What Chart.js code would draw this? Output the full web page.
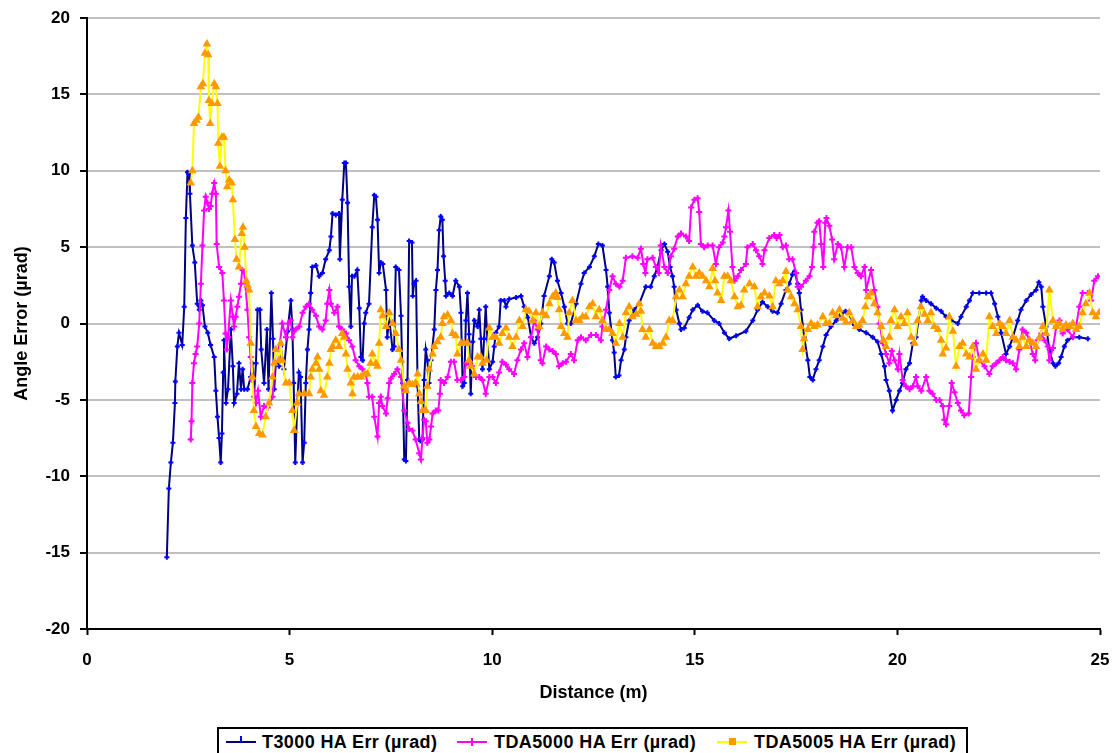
<!DOCTYPE html>
<html>
<head>
<meta charset="utf-8">
<script src="https://cdn.jsdelivr.net/npm/chart.js@4.4.1/dist/chart.umd.min.js"></script>
<style>
  html, body { margin: 0; padding: 0; background: #fff; overflow: hidden; }
  #wrap { position: relative; width: 1114px; height: 753px; }
  #legend {
    position: absolute; left: 217px; top: 727px; width: 751px; height: 32px;
    box-sizing: border-box; border: 2px solid #000; background: #fff;
    font-family: "Liberation Sans", Arial, sans-serif; font-size: 18px; font-weight: bold;
    letter-spacing: 0.4px; color: #000;
  }
  .item { position: absolute; top: 2px; height: 22px; }
  .swatch { position: absolute; top: 10px; width: 30px; height: 2px; }
  .mark { position: absolute; }
  .label { position: absolute; top: 1px; white-space: nowrap; line-height: 20px; }
</style>
</head>
<body>
<div id="wrap">
  <canvas id="chart" width="1114" height="753"></canvas>
  <div id="legend"></div>
</div>
<script>
// Series names
const seriesNames = ['T3000 HA Err (µrad)', 'TDA5000 HA Err (µrad)', 'TDA5005 HA Err (µrad)'];

// Axis ticks
const xTicks = [0, 5, 10, 15, 20, 25];
const yTicks = [-20, -15, -10, -5, 0, 5, 10, 15, 20];

// T3000 : [distance m, error µrad]
const t3000 = [
  [1.97,-15.3],[2.02,-10.8],[2.07,-9.1],[2.12,-7.8],[2.17,-5.2],[2.18,-3.8],[2.23,-1.5],[2.27,-0.6],[2.35,-1.4],[2.40,1.1],
  [2.44,6.9],[2.48,9.9],[2.52,9.8],[2.54,8.5],[2.60,5.1],[2.66,4.0],[2.72,1.3],[2.77,0.9],[2.81,1.5],[2.85,1.2],
  [2.91,-0.2],[2.98,-0.6],[3.05,-1.4],[3.14,-2.2],[3.18,-4.4],[3.22,-6.1],[3.26,-7.5],[3.30,-9.1],[3.33,-7.2],[3.36,-3.2],
  [3.38,-1.1],[3.43,-5.2],[3.48,-4.3],[3.55,-0.4],[3.60,-2.8],[3.63,-5.2],[3.70,-4.6],[3.75,-2.6],[3.80,-4.3],[3.84,-3.0],
  [3.88,-4.3],[3.96,-4.3],[4.04,-3.5],[4.08,-2.6],[4.12,-4.8],[4.17,-2.6],[4.21,0.9],[4.27,0.9],[4.30,-1.7],[4.37,-3.9],
  [4.44,-0.4],[4.48,-4.3],[4.55,2.0],[4.59,-1.0],[4.62,-4.3],[4.66,-2.6],[4.74,-2.8],[4.78,-1.5],[4.86,-3.0],[4.95,-0.5],
  [5.03,1.5],[5.07,-0.4],[5.10,-3.9],[5.14,-9.1],[5.19,-5.2],[5.23,-3.2],[5.27,-3.5],[5.32,-9.1],[5.36,-7.8],[5.40,-3.9],
  [5.44,-1.7],[5.48,-0.4],[5.52,2.0],[5.56,3.7],[5.65,3.8],[5.73,3.1],[5.81,3.3],[5.89,4.2],[5.98,4.8],[6.02,5.7],
  [6.06,7.2],[6.14,7.1],[6.22,7.2],[6.24,4.2],[6.30,8.1],[6.35,10.5],[6.39,10.5],[6.43,7.9],[6.47,2.4],[6.51,-0.2],
  [6.54,3.1],[6.60,3.1],[6.67,3.5],[6.72,1.0],[6.76,-2.2],[6.80,-2.4],[6.84,0.0],[6.88,0.7],[6.96,1.3],[7.04,6.3],
  [7.09,8.4],[7.13,8.3],[7.17,6.8],[7.21,3.3],[7.25,4.0],[7.30,3.9],[7.38,2.2],[7.41,-0.9],[7.46,0.3],[7.54,-1.7],
  [7.58,-1.5],[7.62,3.7],[7.70,3.5],[7.75,0.5],[7.79,-3.9],[7.83,-8.9],[7.87,-9.0],[7.91,-3.7],[7.95,5.4],[8.02,5.3],
  [8.04,1.8],[8.07,2.6],[8.12,2.8],[8.16,-4.1],[8.20,-7.6],[8.23,-7.7],[8.28,-7.6],[8.32,-3.7],[8.36,-1.7],[8.40,-2.4],
  [8.44,-3.9],[8.49,-2.4],[8.57,-0.4],[8.61,2.2],[8.65,3.5],[8.69,6.1],[8.73,7.0],[8.77,6.8],[8.80,4.4],[8.84,2.8],
  [8.86,1.8],[8.94,2.0],[9.02,1.8],[9.10,2.8],[9.19,2.4],[9.23,0.7],[9.27,-4.1],[9.31,-3.9],[9.35,0.2],[9.39,2.0],
  [9.43,-0.7],[9.47,-4.6],[9.52,-1.2],[9.56,0.2],[9.64,-0.2],[9.68,0.9],[9.72,-1.0],[9.76,-3.0],[9.80,-1.0],[9.84,1.1],
  [9.88,-1.0],[9.93,-3.0],[10.01,-2.5],[10.05,-1.5],[10.09,-0.6],[10.17,-0.2],[10.21,1.5],[10.30,1.5],[10.34,1.1],[10.42,1.6],
  [10.59,1.7],[10.71,1.8],[10.79,1.1],[10.88,0.4],[10.96,-0.9],[11.04,-1.3],[11.12,-0.9],[11.20,0.0],[11.28,1.8],[11.41,3.1],
  [11.47,4.2],[11.53,4.0],[11.61,2.8],[11.70,2.0],[11.78,1.1],[11.86,0.0],[11.94,0.0],[12.07,1.3],[12.19,2.6],[12.27,3.3],
  [12.40,3.7],[12.52,4.4],[12.62,5.2],[12.72,5.1],[12.81,3.5],[12.85,2.4],[12.89,0.7],[12.97,-1.1],[13.01,-1.9],[13.05,-3.5],
  [13.13,-3.4],[13.18,-2.4],[13.26,-1.7],[13.30,-0.9],[13.38,0.2],[13.51,0.9],[13.63,1.3],[13.79,2.4],[13.91,2.4],[14.00,3.1],
  [14.08,3.7],[14.17,4.8],[14.25,5.2],[14.33,4.7],[14.39,3.7],[14.45,3.1],[14.49,2.4],[14.54,0.9],[14.62,0.0],[14.66,-0.4],
  [14.74,-0.3],[14.86,0.4],[14.95,0.9],[15.07,1.2],[15.19,0.8],[15.31,0.7],[15.48,0.2],[15.60,0.0],[15.73,-0.6],[15.85,-1.0],
  [16.02,-0.8],[16.26,-0.5],[16.43,0.2],[16.55,0.9],[16.67,1.4],[16.80,1.1],[16.92,0.8],[17.04,0.7],[17.13,1.3],[17.25,2.2],
  [17.33,2.6],[17.41,3.2],[17.46,3.4],[17.54,2.6],[17.58,2.0],[17.62,0.9],[17.70,-0.9],[17.79,-2.4],[17.84,-3.5],[17.91,-3.7],
  [17.99,-3.0],[18.07,-2.4],[18.16,-1.5],[18.24,-0.75],[18.36,-0.2],[18.49,0.2],[18.61,0.6],[18.72,0.8],[18.80,0.6],[18.94,-0.1],
  [19.06,-0.4],[19.23,-0.6],[19.39,-0.9],[19.51,-1.2],[19.60,-2.0],[19.68,-2.8],[19.72,-3.7],[19.80,-4.4],[19.88,-5.7],[19.97,-5.0],
  [20.05,-4.4],[20.13,-3.9],[20.21,-3.0],[20.30,-2.6],[20.38,-1.3],[20.46,-0.9],[20.59,1.5],[20.62,1.75],[20.71,1.5],[20.83,1.3],
  [20.96,1.0],[21.08,0.8],[21.20,0.45],[21.33,0.2],[21.49,0.0],[21.57,0.45],[21.70,1.1],[21.78,1.5],[21.86,2.0],[22.02,2.0],
  [22.19,2.0],[22.31,2.0],[22.40,1.3],[22.48,0.45],[22.56,-0.6],[22.68,-2.0],[22.77,-1.5],[22.85,-0.9],[22.97,0.2],[23.05,0.9],
  [23.18,1.5],[23.30,1.9],[23.42,2.2],[23.49,2.7],[23.55,2.4],[23.59,1.1],[23.67,-0.2],[23.75,-1.7],[23.84,-2.6],[23.90,-2.8],
  [23.98,-2.6],[24.04,-2.2],[24.12,-1.5],[24.20,-1.1],[24.33,-0.9],[24.49,-0.9],[24.70,-1.0]
];

// TDA5000
const tda5000 = [
  [2.56,-7.6],[2.58,-6.4],[2.60,-3.9],[2.64,-2.6],[2.68,-2.0],[2.72,-1.5],[2.77,0.0],[2.81,2.6],[2.85,5.1],[2.89,7.4],
  [2.93,8.3],[2.97,7.9],[3.01,7.5],[3.05,7.7],[3.09,8.5],[3.14,9.2],[3.18,8.5],[3.20,5.2],[3.26,3.7],[3.34,3.3],
  [3.38,1.5],[3.42,-0.65],[3.45,-1.7],[3.48,-0.9],[3.55,1.5],[3.60,0.45],[3.63,-0.2],[3.67,0.45],[3.71,1.1],[3.75,1.75],
  [3.80,2.6],[3.83,3.5],[3.88,3.4],[3.96,0.9],[4.00,-0.9],[4.04,-2.2],[4.08,-3.7],[4.17,-5.2],[4.22,-4.4],[4.29,-6.1],
  [4.37,-5.4],[4.46,-5.5],[4.58,-4.8],[4.66,-1.7],[4.74,-1.7],[4.82,0.0],[4.91,-0.9],[4.97,0.0],[5.03,0.2],[5.07,-0.9],
  [5.15,-0.4],[5.24,-0.2],[5.32,0.7],[5.40,1.1],[5.48,1.3],[5.56,0.9],[5.65,0.5],[5.73,-0.2],[5.81,-0.4],[5.89,0.2],
  [5.93,1.3],[5.98,2.2],[6.02,1.3],[6.10,0.7],[6.18,1.1],[6.22,-0.2],[6.30,-0.4],[6.39,-0.65],[6.47,-1.1],[6.55,-1.5],
  [6.63,-2.4],[6.72,-2.8],[6.80,-3.0],[6.88,-3.3],[6.92,-3.9],[6.96,-4.8],[7.04,-4.8],[7.09,-6.1],[7.17,-7.4],[7.21,-5.2],
  [7.25,-4.8],[7.29,-5.4],[7.38,-5.9],[7.42,-4.9],[7.46,-3.9],[7.50,-3.6],[7.58,-3.3],[7.66,-3.0],[7.75,-3.5],[7.83,-5.7],
  [7.91,-6.5],[7.95,-6.9],[8.03,-7.0],[8.11,-7.6],[8.20,-8.5],[8.24,-8.9],[8.28,-7.5],[8.32,-6.3],[8.36,-6.4],[8.40,-7.8],
  [8.45,-7.6],[8.49,-6.75],[8.53,-5.9],[8.61,-5.7],[8.67,-5.7],[8.71,-4.6],[8.73,-3.7],[8.81,-3.9],[8.90,-3.5],[8.98,-2.5],
  [9.06,-2.5],[9.14,-3.7],[9.23,-3.7],[9.31,-3.5],[9.35,-2.6],[9.43,-2.7],[9.51,-2.8],[9.60,-3.5],[9.68,-3.5],[9.76,-3.7],
  [9.84,-4.6],[9.93,-3.5],[10.01,-3.5],[10.09,-3.9],[10.17,-3.2],[10.25,-2.5],[10.34,-2.7],[10.42,-3.0],[10.54,-3.3],[10.62,-2.4],
  [10.71,-1.7],[10.79,-1.3],[10.87,-2.2],[10.96,-0.9],[11.04,0.2],[11.12,-0.4],[11.20,-2.4],[11.24,-2.6],[11.33,-1.5],[11.41,-1.7],
  [11.49,-1.8],[11.57,-2.0],[11.65,-2.8],[11.74,-2.6],[11.82,-2.5],[11.94,-2.0],[12.02,-2.4],[12.11,-1.1],[12.19,-0.9],[12.31,-1.1],
  [12.44,-0.75],[12.56,-0.75],[12.68,-1.1],[12.72,-0.2],[12.81,0.9],[12.89,2.2],[12.97,3.1],[13.05,2.6],[13.14,2.4],[13.22,2.8],
  [13.30,4.3],[13.46,4.4],[13.59,4.3],[13.67,4.9],[13.73,3.9],[13.78,3.3],[13.83,4.2],[13.96,4.3],[14.04,3.7],[14.11,3.3],
  [14.16,5.1],[14.25,3.7],[14.33,3.3],[14.41,4.4],[14.49,4.9],[14.58,5.7],[14.66,5.9],[14.78,5.7],[14.86,5.4],[14.91,7.6],
  [14.99,8.1],[15.07,8.2],[15.11,7.3],[15.15,5.2],[15.23,5.0],[15.32,5.1],[15.44,5.1],[15.52,3.9],[15.60,5.0],[15.69,5.3],
  [15.73,5.7],[15.77,6.3],[15.83,7.4],[15.87,6.0],[15.93,3.7],[15.98,2.8],[16.06,3.1],[16.14,3.5],[16.26,3.9],[16.30,5.0],
  [16.43,5.2],[16.51,4.8],[16.59,4.4],[16.67,3.9],[16.72,4.8],[16.84,5.6],[16.96,5.8],[17.02,5.6],[17.09,5.8],[17.17,5.0],
  [17.25,5.1],[17.33,4.2],[17.41,4.2],[17.50,3.3],[17.54,2.4],[17.62,2.4],[17.74,2.8],[17.83,3.1],[17.89,3.7],[17.93,5.0],
  [17.95,6.0],[18.03,6.6],[18.07,6.7],[18.12,5.2],[18.17,3.7],[18.22,6.6],[18.25,6.9],[18.32,6.4],[18.39,5.5],[18.44,4.2],
  [18.53,5.2],[18.61,5.0],[18.69,3.7],[18.77,5.0],[18.86,5.0],[18.94,3.7],[19.02,3.3],[19.10,3.1],[19.19,3.7],[19.23,2.2],
  [19.35,3.5],[19.43,2.2],[19.51,1.1],[19.56,0.0],[19.64,-1.3],[19.72,-2.0],[19.80,-2.6],[19.86,-1.8],[19.93,-2.4],[20.01,-3.0],
  [20.05,-2.0],[20.13,-3.7],[20.21,-4.1],[20.30,-4.3],[20.38,-4.1],[20.46,-3.5],[20.50,-4.1],[20.59,-4.4],[20.71,-3.5],[20.79,-4.4],
  [20.87,-4.6],[20.96,-5.0],[21.04,-5.0],[21.12,-5.4],[21.16,-6.3],[21.20,-6.6],[21.28,-5.4],[21.34,-3.9],[21.41,-4.5],[21.49,-5.2],
  [21.57,-5.7],[21.65,-6.0],[21.76,-5.9],[21.82,-3.5],[21.86,-2.2],[21.94,-1.3],[22.02,-2.4],[22.15,-2.8],[22.27,-3.3],[22.35,-2.8],
  [22.44,-2.6],[22.52,-2.4],[22.60,-2.2],[22.68,-2.4],[22.77,-2.5],[22.85,-2.6],[22.93,-3.0],[23.01,-1.7],[23.09,-0.4],[23.18,-0.6],
  [23.26,-1.1],[23.34,-2.0],[23.40,-2.4],[23.46,-1.1],[23.55,-0.65],[23.63,-1.1],[23.71,-1.5],[23.75,-2.4],[23.84,-1.6],[23.92,-0.2],
  [24.00,0.2],[24.08,-0.65],[24.20,-0.4],[24.33,-0.9],[24.41,-0.2],[24.49,1.1],[24.57,2.0],[24.70,2.0],[24.78,1.5],[24.86,2.8],
  [24.95,3.1]
];

// TDA5005
const tda5005 = [
  [2.56,9.2],[2.60,10.0],[2.64,13.1],[2.70,13.3],[2.75,13.5],[2.81,15.5],[2.86,15.7],[2.91,17.7],[2.96,18.3],[2.99,17.6],
  [3.01,14.6],[3.04,13.1],[3.08,14.4],[3.14,15.7],[3.18,15.5],[3.22,14.4],[3.24,11.8],[3.28,10.3],[3.33,12.2],[3.38,12.2],
  [3.42,10.0],[3.46,8.95],[3.51,9.4],[3.57,9.2],[3.60,8.1],[3.65,5.5],[3.69,4.2],[3.75,3.7],[3.82,5.9],[3.85,6.3],
  [3.89,5.0],[3.93,2.8],[3.96,2.5],[4.00,2.2],[4.04,-1.3],[4.08,-3.5],[4.12,-5.7],[4.17,-6.75],[4.25,-7.2],[4.33,-7.3],
  [4.41,-6.1],[4.49,-5.2],[4.58,-3.5],[4.62,-2.6],[4.66,-1.7],[4.74,-2.4],[4.78,-1.3],[4.82,-2.4],[4.91,-3.9],[4.99,-3.9],
  [5.07,-5.7],[5.11,-7.0],[5.19,-5.2],[5.23,-4.6],[5.36,-4.6],[5.48,-4.6],[5.52,-3.5],[5.56,-3.0],[5.65,-2.6],[5.69,-2.2],
  [5.73,-3.0],[5.77,-4.4],[5.85,-4.7],[5.93,-3.5],[5.98,-2.6],[6.02,-1.7],[6.06,-1.5],[6.14,-1.1],[6.22,-1.5],[6.30,-0.65],
  [6.35,-0.9],[6.39,-2.0],[6.43,-3.0],[6.51,-3.9],[6.55,-4.6],[6.59,-3.5],[6.68,-3.5],[6.76,-3.5],[6.84,-3.3],[6.92,-3.3],
  [7.00,-2.6],[7.04,-2.0],[7.13,-2.6],[7.17,-2.8],[7.21,-1.3],[7.25,0.9],[7.30,0.5],[7.38,-0.2],[7.46,0.7],[7.54,0.0],
  [7.62,-0.65],[7.70,-1.7],[7.75,-2.4],[7.83,-4.1],[7.87,-4.4],[7.95,-3.9],[8.03,-4.0],[8.11,-3.9],[8.16,-3.3],[8.20,-4.6],
  [8.24,-5.1],[8.28,-5.7],[8.36,-5.7],[8.40,-4.1],[8.44,-3.0],[8.53,-2.0],[8.57,-1.5],[8.65,-1.2],[8.73,-0.9],[8.77,0.0],
  [8.81,0.45],[8.90,0.55],[8.98,0.2],[9.02,-0.65],[9.10,-0.8],[9.14,-2.0],[9.23,-1.3],[9.31,-1.3],[9.39,-1.3],[9.43,-2.4],
  [9.47,-2.8],[9.56,-3.3],[9.64,-2.2],[9.72,-2.2],[9.76,-2.6],[9.86,-2.4],[9.93,-0.3],[10.01,-0.9],[10.09,-0.9],[10.17,-1.3],
  [10.25,-0.65],[10.34,-0.3],[10.42,-0.9],[10.50,-1.5],[10.59,-0.9],[10.67,0.2],[10.75,-0.2],[10.83,0.9],[10.91,0.8],[11.00,0.2],
  [11.08,0.7],[11.16,-0.2],[11.24,0.7],[11.33,0.5],[11.41,1.3],[11.49,1.75],[11.57,2.0],[11.61,1.7],[11.65,0.9],[11.70,-0.2],
  [11.78,-0.65],[11.86,-0.9],[11.90,0.7],[11.98,1.5],[12.07,0.2],[12.15,0.2],[12.23,0.45],[12.31,0.45],[12.40,1.1],[12.48,1.3],
  [12.56,0.45],[12.64,0.9],[12.72,0.2],[12.81,-0.4],[12.89,-0.4],[12.97,-0.65],[13.05,-1.3],[13.14,0.0],[13.22,-0.9],[13.30,0.7],
  [13.38,1.1],[13.46,0.45],[13.55,0.6],[13.63,1.3],[13.67,0.8],[13.71,-0.4],[13.79,-0.9],[13.88,-0.4],[13.96,-1.3],[14.04,-1.5],
  [14.12,-1.5],[14.21,-1.3],[14.29,-0.9],[14.37,0.2],[14.45,0.2],[14.54,1.75],[14.62,2.2],[14.70,1.75],[14.78,2.6],[14.86,3.1],
  [14.95,3.7],[15.03,3.1],[15.11,3.3],[15.19,3.1],[15.28,2.8],[15.36,2.4],[15.44,3.6],[15.50,2.8],[15.56,2.0],[15.65,1.5],
  [15.73,3.1],[15.81,3.1],[15.89,2.8],[15.98,1.75],[16.06,1.1],[16.14,1.2],[16.22,2.2],[16.35,2.6],[16.47,2.4],[16.55,1.1],
  [16.63,1.75],[16.72,2.0],[16.84,1.8],[16.92,1.1],[17.00,2.8],[17.09,2.6],[17.17,2.8],[17.25,3.4],[17.29,2.2],[17.38,1.75],
  [17.46,1.3],[17.54,0.9],[17.62,-0.2],[17.66,-1.7],[17.70,-1.0],[17.79,-0.4],[17.87,0.0],[17.95,-0.2],[18.03,-0.1],[18.16,0.45],
  [18.24,0.0],[18.32,0.0],[18.40,0.7],[18.49,0.5],[18.57,0.9],[18.65,0.35],[18.73,0.1],[18.81,0.7],[18.90,0.2],[18.98,-0.2],
  [19.06,-0.1],[19.14,0.2],[19.21,1.1],[19.27,1.75],[19.35,2.0],[19.43,1.3],[19.51,0.7],[19.60,-0.2],[19.65,-1.1],[19.72,-1.5],
  [19.80,-0.9],[19.84,0.2],[19.93,0.9],[20.01,-0.2],[20.09,0.45],[20.17,0.0],[20.25,0.7],[20.34,-0.9],[20.42,-1.3],[20.50,0.2],
  [20.58,1.1],[20.67,0.6],[20.75,0.2],[20.83,0.7],[20.91,-0.2],[21.00,-0.4],[21.08,-1.1],[21.12,-2.0],[21.20,-1.6],[21.28,0.45],
  [21.37,-0.5],[21.45,-2.8],[21.53,-1.5],[21.61,-1.3],[21.70,-2.0],[21.78,-2.2],[21.86,-1.5],[21.94,-3.0],[22.02,-2.4],[22.11,-2.0],
  [22.19,-2.4],[22.27,0.45],[22.35,-0.2],[22.44,-0.65],[22.52,0.0],[22.60,-0.2],[22.68,-0.65],[22.77,0.2],[22.85,-0.9],[22.93,-1.1],
  [23.01,-1.5],[23.09,-0.9],[23.18,-1.5],[23.26,-1.1],[23.34,-1.3],[23.42,-1.5],[23.51,-0.9],[23.59,-0.2],[23.67,-0.65],[23.75,2.2],
  [23.84,0.2],[23.92,-0.2],[24.00,0.0],[24.08,-0.4],[24.16,-0.1],[24.25,-0.2],[24.33,0.0],[24.41,-0.4],[24.49,-0.2],[24.57,0.7],
  [24.65,1.3],[24.74,2.0],[24.82,0.7],[24.90,0.45],[24.98,0.7]
];

const toPoints = arr => arr.map(p => ({ x: p[0], y: p[1] }));

const styles = [
  { line: '#000080', point: '#0000FF', pointStyle: 'cross', radius: 2.5 },
  { line: '#FF00FF', point: '#FF00FF', pointStyle: 'cross', radius: 3 },
  { line: '#FFFF00', point: '#FF9900', pointStyle: 'triangle', radius: 3 }
];
const seriesData = [t3000, tda5000, tda5005];

const datasets = seriesData.map((s, i) => ({
  label: seriesNames[i],
  data: toPoints(s),
  showLine: true,
  borderColor: styles[i].line,
  borderWidth: 2,
  pointStyle: styles[i].pointStyle,
  pointRadius: styles[i].radius,
  pointBorderColor: styles[i].point,
  pointBackgroundColor: styles[i].point,
  pointBorderWidth: 2,
  tension: 0,
  order: 3 - i   // later series drawn on top, like the original
}));

const tickFont = { family: "'Liberation Sans', Arial, sans-serif", size: 17, weight: 'bold' };
const titleFont = { family: "'Liberation Sans', Arial, sans-serif", size: 18, weight: 'bold' };

new Chart(document.getElementById('chart'), {
  type: 'scatter',
  data: { datasets: datasets },
  options: {
    responsive: false,
    animation: false,
    layout: { padding: { left: 0, right: 14, top: 18, bottom: 45 } },
    plugins: {
      legend: { display: false },
      tooltip: { enabled: false }
    },
    scales: {
      x: {
        type: 'linear',
        min: 0,
        max: 25,
        afterBuildTicks: scale => { scale.ticks = xTicks.map(v => ({ value: v })); },
        afterFit: scale => {
          scale.height = 79;
          scale.paddingLeft = 0;
          scale.paddingRight = 0;
        },
        ticks: { color: '#000', font: tickFont, padding: 15, maxRotation: 0 },
        grid: { drawOnChartArea: false, drawTicks: true, tickLength: 6, tickColor: '#000', tickWidth: 2 },
        border: { color: '#000', width: 2 },
        title: { display: true, text: 'Distance (m)', color: '#000', font: titleFont, padding: { top: 4, bottom: 4 } }
      },
      y: {
        type: 'linear',
        min: -20,
        max: 20,
        afterBuildTicks: scale => { scale.ticks = yTicks.map(v => ({ value: v })); },
        afterFit: scale => {
          scale.width = 87;
          scale.paddingTop = 0;
          scale.paddingBottom = 0;
        },
        ticks: { color: '#000', font: tickFont, padding: 10 },
        grid: {
          color: ctx => (ctx.tick && ctx.tick.value === -20) ? 'rgba(0,0,0,0)' : '#C0C0C0',
          lineWidth: 2,
          tickLength: 7,
          tickColor: '#000',
          tickWidth: 2
        },
        border: { color: '#000', width: 2 },
        title: { display: true, text: 'Angle Error (µrad)', color: '#000', font: titleFont, padding: { top: 11, bottom: 4 } }
      }
    }
  }
});

// Legend (Excel-style box below the plot)
const legendPos = [
  { line: 7, text: 43 },
  { line: 238, text: 275 },
  { line: 498, text: 535 }
];
const legend = document.getElementById('legend');
seriesNames.forEach((name, i) => {
  const item = document.createElement('div');
  item.className = 'item';
  item.style.left = '0px';
  const sw = document.createElement('div');
  sw.className = 'swatch';
  sw.style.left = legendPos[i].line + 'px';
  sw.style.background = styles[i].line;
  item.appendChild(sw);
  const mk = document.createElement('div');
  mk.className = 'mark';
  if (i === 0) {
    mk.style.cssText = 'left:' + (legendPos[i].line + 14) + 'px;top:5px;width:2px;height:6px;background:#0000FF;';
  } else if (i === 1) {
    mk.style.cssText = 'left:' + (legendPos[i].line + 14) + 'px;top:7px;width:2px;height:8px;background:#FF00FF;';
  } else {
    mk.style.cssText = 'left:' + (legendPos[i].line + 12) + 'px;top:7px;width:7px;height:7px;background:#FF9900;';
  }
  item.appendChild(mk);
  const lb = document.createElement('div');
  lb.className = 'label';
  lb.style.left = legendPos[i].text + 'px';
  lb.textContent = name;
  item.appendChild(lb);
  legend.appendChild(item);
});
</script>
</body>
</html>
